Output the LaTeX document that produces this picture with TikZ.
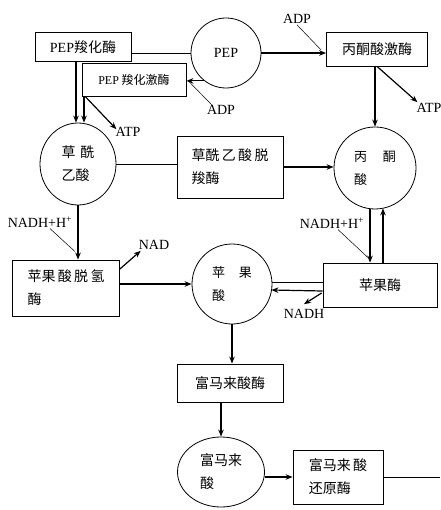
\documentclass[tikz,border=0pt]{standalone}
\usepackage{fontspec}
\setmainfont{Liberation Serif}
\newfontfamily\cjk{Noto Sans CJK SC}
\usetikzlibrary{arrows.meta,shapes.geometric,calc}

\tikzset{
    enzyme/.style={draw, thick, rectangle, align=left, font=\fontsize{14}{23}\selectfont\cjk},
    metab/.style={draw, thick, circle, align=left, inner sep=1pt, font=\fontsize{14}{23}\selectfont\cjk},
    cofac/.style={inner sep=1pt, font=\fontsize{14}{16}\selectfont},
    flow/.style={line width=1.2pt, -{Stealth[length=7pt, width=5.5pt]}},
    link/.style={line width=0.5pt},
}

\begin{document}
\begin{tikzpicture}[x=1pt, y=-1pt]
    \useasboundingbox (0,0) rectangle (440,510);

    % enzymes
    \node[enzyme, minimum width=96, minimum height=29] at (83,47) (pepc) {{\rmfamily PEP}羧化酶};
    \node[enzyme, font=\fontsize{12}{15}\selectfont\cjk, minimum width=104, minimum height=33] at (134,80) (pepck) {{\rmfamily PEP} 羧化激酶};
    \node[enzyme, minimum width=101, minimum height=34] at (377,49) (pk) {丙酮酸激酶};
    \node[enzyme, minimum width=106, minimum height=62] at (230,167) (oaad) {草酰\,乙\,酸\,脱\\羧酶};
    \node[enzyme, minimum width=107, minimum height=56] at (66,288) (mdh) {苹果\,酸\,脱\,氢\\酶};
    \node[enzyme, minimum width=114, minimum height=44] at (380,285) (me) {苹果酶};
    \node[enzyme, minimum width=106, minimum height=38] at (230,383) (fum) {富马来酸酶};
    \node[enzyme, minimum width=90, minimum height=54] at (338,477) (frd) {富马来\,酸\\还原酶};

    % metabolites
    \node[metab, minimum size=70] at (226,53) (pep) {{\rmfamily PEP}};
    \node[metab, font=\fontsize{13}{23}\selectfont\cjk, minimum size=82] at (375,168) (pyr) {丙\hspace{16pt}酮\\酸};
    \node[metab, ellipse, minimum width=76, minimum height=82] at (78,164) (oaa) {草\hspace{5pt}酰\\乙酸};
    \node[metab, font=\fontsize{13}{23}\selectfont\cjk, minimum size=80] at (232,284) (mal) {苹\hspace{14pt}果\\酸};
    \node[metab, ellipse, minimum width=87, minimum height=70] at (221,472) (fa) {富马来\\酸};

    % cofactors
    \node[cofac] at (221,110) (adpA) {ADP};
    \node[cofac] at (297,19) (adpB) {ADP};
    \node[cofac] at (128,132) (atpA) {ATP};
    \node[cofac] at (429,108) (atpB) {ATP};
    \node[cofac] at (40,222) (nadhA) {NADH+H\textsuperscript{+}};
    \node[cofac] at (154,245) (nad) {NAD};
    \node[cofac] at (332,223) (nadhB) {NADH+H\textsuperscript{+}};
    \node[cofac] at (304,314) (nadhC) {NADH};
    \coordinate (out) at (440,477);

    % top row
    \draw[link] (pep.west) -- (pep.west -| pepc.east);
    \draw[flow] (pep.232) -- (pep.232 -| pepck.east);
    \draw[link] ($(adpA.north)+(-8,2)$) -- ($(pepck.east)+(3,2)$);
    \draw[flow] (pep.east) -- (pep.east -| pk.west);
    \draw[link] (adpB.south) -- ($(pk.west)+(-5,1)$);
    \draw[flow] (pyr.north |- pk.south) -- (pyr.north);
    \draw[flow] (pk.south) -- ($(atpB.north west)+(2,0)$);

    % oxaloacetate
    \draw[flow] ($(oaa.north |- pepc.south)+(-2,0)$) -- ($(oaa.north)+(-2,0)$);
    \draw[flow] ($(oaa.north |- pepck.south)+(6,0)$) -- ($(oaa.north)+(6,0)$);
    \draw[flow] ($(pepck.south west)+(4,0)$) -- ($(atpA.north west)+(2,3)$);
    \draw[link] (oaa.east) -- (oaa.east -| oaad.west);
    \draw[flow] (oaad.east) -- (oaad.east -| pyr.west);
    \draw[flow] (oaa.south) -- (oaa.south |- mdh.north);
    \draw[link] ($(nadhA.south)+(10,0)$) -- ($(oaa.south |- mdh.north)+(-3,-8)$);

    % malate
    \draw[flow] ($(mdh.east)+(0,-19)$) -- ($(nad.south west)+(3,0)$);
    \draw[flow] (mdh.east |- mal.west) -- (mal.west);
    \draw[link] ($(mal.east)+(0,-2)$) -- ($(mal.east -| me.west)+(0,-2)$);
    \draw[flow] ($(me.west)+(0,6)$) -- ($(mal.east)+(-1,6)$);
    \draw[flow] ($(me.west)+(-1,8)$) -- ($(nadhC.north)+(0,-4)$);
    \draw[flow] ($(pyr.south)+(-5,0)$) -- ($(pyr.south |- me.north)+(-5,0)$);
    \draw[flow] ($(pyr.south |- me.north)+(8,0)$) -- ($(pyr.south)+(8,-1)$);
    \draw[link] ($(nadhB.south)+(6,0)$) -- ($(pyr.south |- me.north)+(-7,-5)$);

    % fumarate
    \draw[flow] (mal.south) -- (mal.south |- fum.north);
    \draw[flow] (fa.north |- fum.south) -- (fa.north);
    \draw[flow] (frd.west -| fa.east) -- (frd.west);
    \draw[thick] (frd.east) -- (out);
\end{tikzpicture}
\end{document}
